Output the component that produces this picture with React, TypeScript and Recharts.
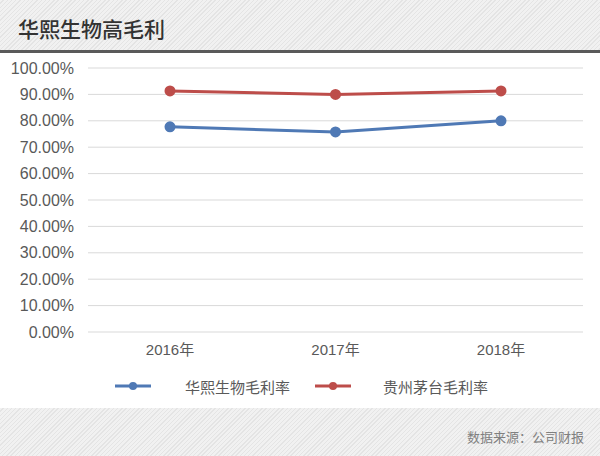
import React from 'react';
import { LineChart, Line, XAxis, YAxis, CartesianGrid, Legend } from 'recharts';

const years = ['2016年', '2017年', '2018年'];
const huaxiMargin = [0.777, 0.758, 0.8];
const maotaiMargin = [0.913, 0.9, 0.913];
const yTicks = [0, 0.1, 0.2, 0.3, 0.4, 0.5, 0.6, 0.7, 0.8, 0.9, 1];

const seriesNames = { huaxi: '华熙生物毛利率', maotai: '贵州茅台毛利率' };
const BLUE = '#4f79b5';
const RED = '#bd4d4a';

const data = years.map((y, i) => ({
  year: y,
  huaxi: huaxiMargin[i],
  maotai: maotaiMargin[i],
}));

const hatch = 'repeating-linear-gradient(135deg, #f1f1f1 0px, #f1f1f1 2px, #e4e4e4 2px, #e4e4e4 3px)';
const font = '"Liberation Sans", "Noto Sans CJK SC", sans-serif';

const LegendContent = () => (
  <div style={{ position: 'relative', width: 600, height: 20, fontFamily: font, fontSize: 15, color: '#595959' }}>
    {[
      { key: 'huaxi', color: BLUE, x: 115, tx: 185 },
      { key: 'maotai', color: RED, x: 315, tx: 383 },
    ].map(item => (
      <React.Fragment key={item.key}>
        <svg width={36} height={12} style={{ position: 'absolute', left: item.x, top: 4 }}>
          <line x1={0} y1={6} x2={36} y2={6} stroke={item.color} strokeWidth={3} />
          <circle cx={18} cy={6} r={4} fill={item.color} />
        </svg>
        <span style={{ position: 'absolute', left: item.tx, top: 0, whiteSpace: 'nowrap' }}>
          {seriesNames[item.key as 'huaxi' | 'maotai']}
        </span>
      </React.Fragment>
    ))}
  </div>
);

export default function App() {
  return (
    <div style={{ position: 'absolute', left: 0, top: 0, width: 600, height: 456, background: '#fff', overflow: 'hidden', fontFamily: font }}>
      <div style={{ position: 'absolute', left: 0, top: 0, width: 600, height: 50, background: hatch }} />
      <div style={{ position: 'absolute', left: 18, top: 13, fontSize: 21, color: '#333', fontFamily: '"Noto Sans CJK SC", sans-serif', fontWeight: 500 }}>
        华熙生物高毛利
      </div>
      <div style={{ position: 'absolute', left: 0, top: 50, width: 600, height: 3, background: '#5a5a5a' }} />

      <div style={{ position: 'absolute', left: 0, top: 55 }}>
        <LineChart width={600} height={345} data={data} margin={{ top: 13, right: 17, left: 0, bottom: 0 }}>
          <CartesianGrid horizontal vertical={false} stroke="#d9d9d9" />
          <XAxis
            dataKey="year"
            axisLine={false}
            tickLine={false}
            padding={{ left: 82, right: 82 }}
            tick={{ fill: '#595959', fontSize: 15, fontFamily: font }}
            tickMargin={6}
            height={30}
          />
          <YAxis
            domain={[0, 1]}
            ticks={yTicks}
            tickFormatter={(v: number) => `${(v * 100).toFixed(2)}%`}
            axisLine={false}
            tickLine={false}
            width={88}
            tick={{ fill: '#595959', fontSize: 16, fontFamily: font }}
            tickMargin={8}
          />
          <Legend verticalAlign="bottom" height={38} content={<LegendContent />} wrapperStyle={{ top: 321, left: 0, bottom: 'auto' }} />
          <Line dataKey="huaxi" name={seriesNames.huaxi} stroke={BLUE} strokeWidth={3} dot={{ r: 4, fill: BLUE, stroke: BLUE }} isAnimationActive={false} />
          <Line dataKey="maotai" name={seriesNames.maotai} stroke={RED} strokeWidth={3} dot={{ r: 4, fill: RED, stroke: RED }} isAnimationActive={false} />
        </LineChart>
      </div>

      <div style={{ position: 'absolute', left: 0, top: 408, width: 600, height: 48, background: hatch }} />
      <div style={{ position: 'absolute', right: 16, top: 427, fontSize: 13, color: '#808080', fontFamily: '"Noto Sans CJK SC", sans-serif' }}>
        数据来源：公司财报
      </div>
    </div>
  );
}
